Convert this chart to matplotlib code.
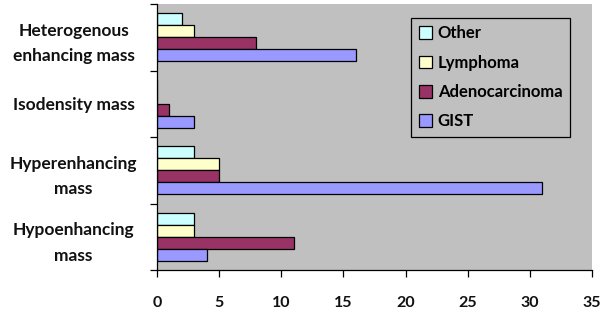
import numpy as np
import matplotlib.pyplot as plt
from matplotlib.ticker import FixedLocator

categories = ["Hypoenhancing\nmass", "Hyperenhancing\nmass", "Isodensity mass",
              "Heterogenous\nenhancing mass"]
series = ["Other", "Lymphoma", "Adenocarcinoma", "GIST"]
other = [3, 3, 0, 2]
lymphoma = [3, 5, 0, 3]
adeno = [11, 5, 1, 8]
gist = [4, 31, 3, 16]
colors = ["#CCFFFF", "#FFFFCC", "#993366", "#9999FF"]

plt.rcParams["font.family"] = ["Lato", "DejaVu Sans"]

fig = plt.figure(figsize=(6.08, 3.12), dpi=100)
ax = fig.add_axes([157 / 608, 1 - 270 / 312, 435 / 608, 266 / 312])
ax.set_facecolor("#C0C0C0")

y = np.arange(len(categories))
h = 0.18
offsets = [1.5 * h, 0.5 * h, -0.5 * h, -1.5 * h]
for vals, name, col, off in zip([other, lymphoma, adeno, gist], series, colors, offsets):
    ax.barh(y + off, vals, height=h, color=col, edgecolor="black", linewidth=0.9, label=name)

ax.set_xlim(0, 35)
ax.set_ylim(-0.5, len(categories) - 0.5)
ax.set_xticks(np.arange(0, 36, 5))
ax.set_yticks(y)
ax.set_yticklabels(categories, ha="center", fontsize=12.5, fontweight="bold",
                   color="#111111", linespacing=1.75)
ax.tick_params(axis="y", which="major", length=0, pad=60)
ax.yaxis.set_minor_locator(FixedLocator(np.arange(-0.5, len(categories), 1)))
ax.tick_params(axis="y", which="minor", length=5, width=0.9, direction="out")
ax.tick_params(axis="x", length=5, width=0.9, pad=14, labelsize=11.5)
for lab in ax.get_xticklabels():
    lab.set_fontweight("bold")
    lab.set_color("#111111")

for s in ["top", "right"]:
    ax.spines[s].set_visible(False)
for s in ["left", "bottom"]:
    ax.spines[s].set_linewidth(0.9)

leg = ax.legend(loc="upper right", bbox_to_anchor=(413 / 435, 1 - 14 / 266),
                fancybox=False, framealpha=1, facecolor="#C0C0C0", edgecolor="black",
                prop={"size": 12, "weight": "bold"}, handlelength=0.8, handleheight=0.8,
                handletextpad=0.35, labelspacing=0.8, borderpad=0.45, borderaxespad=0)
leg.get_frame().set_linewidth(0.9)

fig.savefig("out.png", dpi=100)
